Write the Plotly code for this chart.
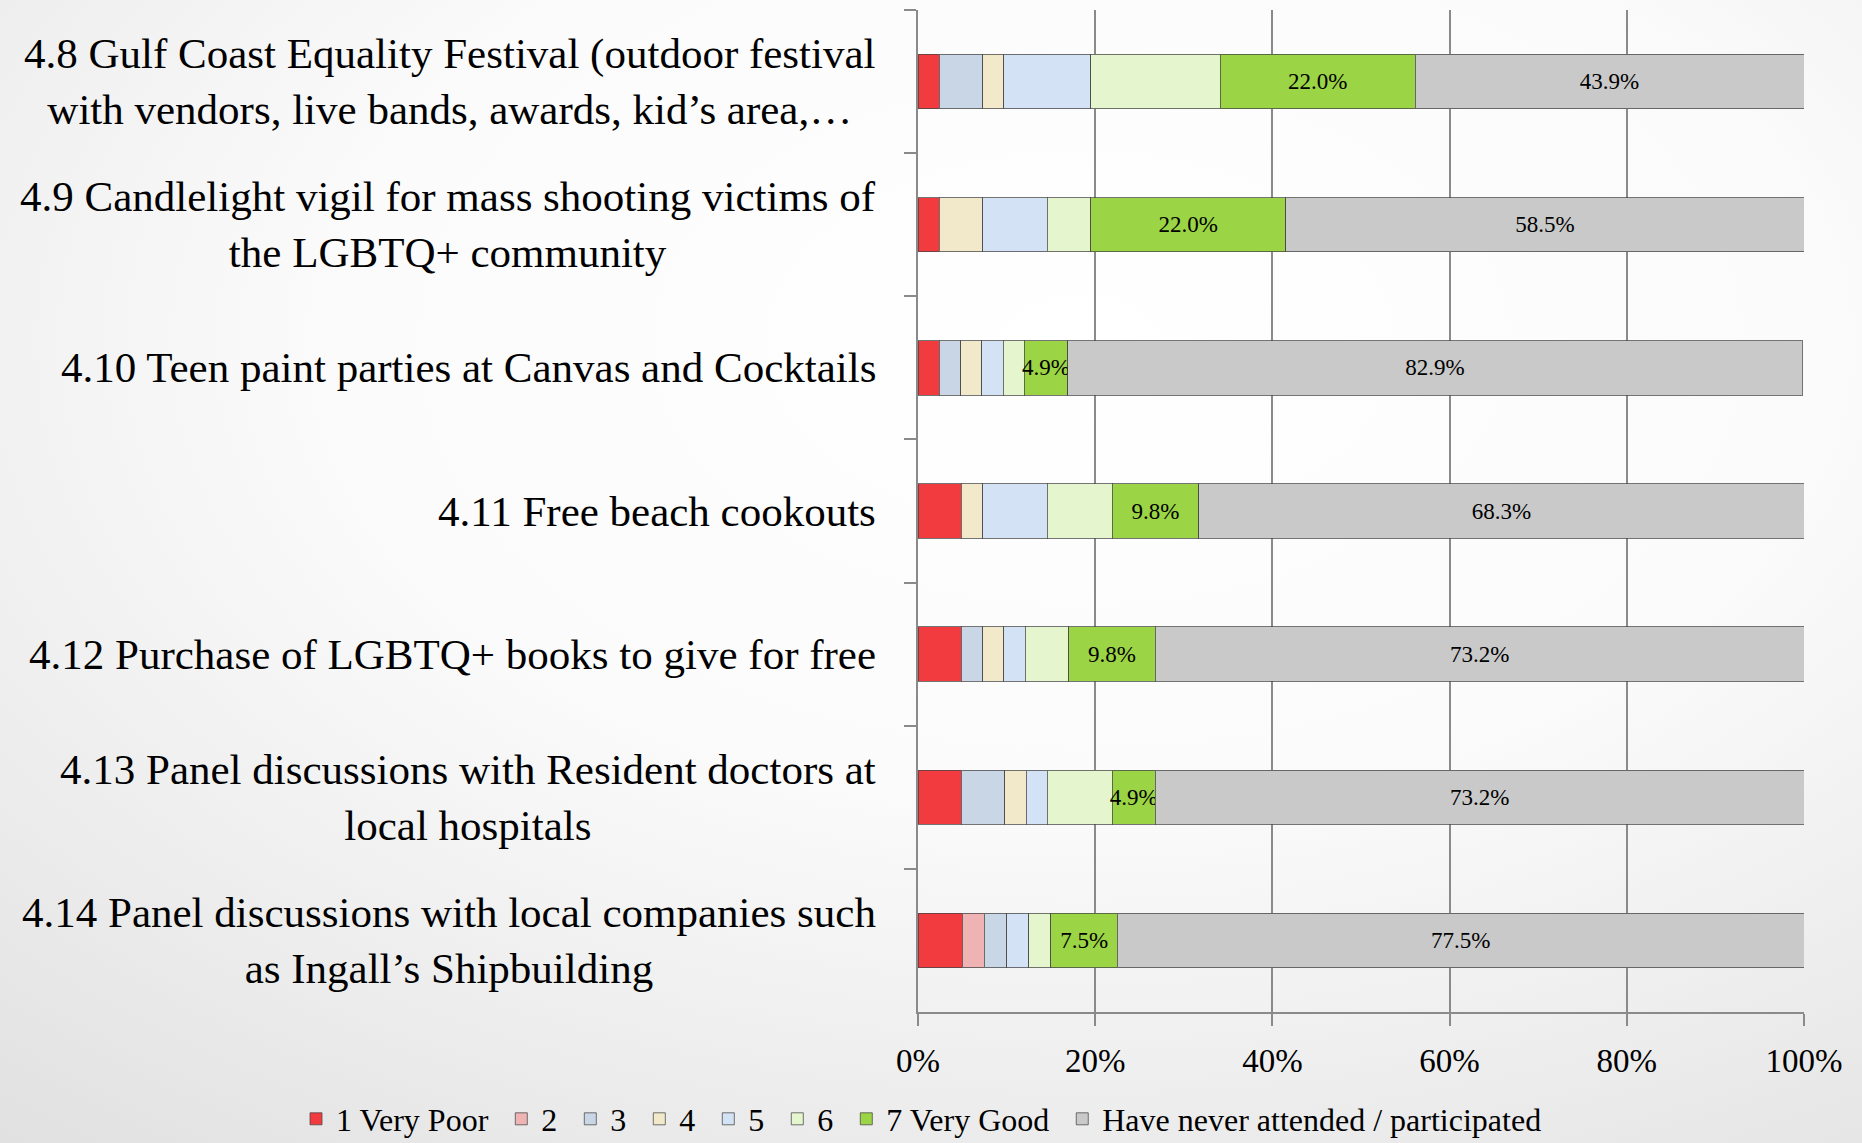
import base64
import plotly.graph_objects as go

# survey items (top to bottom)
categories = [
    "4.8 Gulf Coast Equality Festival (outdoor festival<br>with vendors, live bands, awards, kid’s area,…",
    "4.9 Candlelight vigil for mass shooting victims of<br>the LGBTQ+ community",
    "4.10 Teen paint parties at Canvas and Cocktails",
    "4.11 Free beach cookouts",
    "4.12 Purchase of LGBTQ+ books to give for free",
    "4.13 Panel discussions with Resident doctors at<br>local hospitals",
    "4.14 Panel discussions with local companies such<br>as Ingall’s Shipbuilding",
]

# percentages per rating
very_poor = [2.4, 2.4, 2.4, 4.9, 4.9, 4.9, 5.0]
rating_2 = [0, 0, 0, 0, 0, 0, 2.5]
rating_3 = [4.9, 0, 2.4, 0, 2.4, 4.9, 2.5]
rating_4 = [2.4, 4.9, 2.4, 2.4, 2.4, 2.4, 0]
rating_5 = [9.8, 7.3, 2.4, 7.3, 2.4, 2.4, 2.5]
rating_6 = [14.6, 4.9, 2.4, 7.3, 4.9, 7.3, 2.5]
very_good = [22.0, 22.0, 4.9, 9.8, 9.8, 4.9, 7.5]
never = [43.9, 58.5, 82.9, 68.3, 73.2, 73.2, 77.5]

x_ticks = [0, 20, 40, 60, 80, 100]
x_tick_labels = ["0%", "20%", "40%", "60%", "80%", "100%"]

series = [
    ("1 Very Poor", very_poor, "#f23b3f", False),
    ("2", rating_2, "#efb3b3", False),
    ("3", rating_3, "#c9d6e6", False),
    ("4", rating_4, "#f1e9c9", False),
    ("5", rating_5, "#d3e2f5", False),
    ("6", rating_6, "#e5f5cd", False),
    ("7 Very Good", very_good, "#9bd444", True),
    ("Have never attended / participated", never, "#c9c9c9", True),
]

W, H = 1862, 1143
L, R, T, B = 918, 58, 10, 131
pw, ph = W - L - R, H - T - B

serif = "Liberation Serif"

fig = go.Figure()
for name, vals, color, labelled in series:
    fig.add_trace(go.Bar(
        y=categories, x=[v if v else None for v in vals],
        name=name + "\u00a0",  # a bit of extra room between legend entries
        orientation="h",
        marker=dict(color=color, line=dict(color="rgba(70,70,70,0.75)", width=1)),
        text=[f"{v:.1f}%" for v in vals] if labelled else None,
        textposition="inside" if labelled else "none",
        insidetextanchor="middle", constraintext="none", textangle=0,
        textfont=dict(family=serif, size=23, color="black"),
    ))

# soft grey background gradient like the slide
svg = ('<svg xmlns="http://www.w3.org/2000/svg" viewBox="0 0 100 100" preserveAspectRatio="none">'
       '<defs><radialGradient id="g" cx="0.58" cy="0.3" r="1.0">'
       '<stop offset="0" stop-color="#ffffff"/><stop offset="0.4" stop-color="#fbfbfb"/>'
       '<stop offset="1" stop-color="#dcdcdc"/></radialGradient></defs>'
       '<rect width="100" height="100" fill="url(#g)"/></svg>')
bg = "data:image/svg+xml;base64," + base64.b64encode(svg.encode()).decode()

annotations = [
    dict(text=c, x=-40 / pw, y=c, xref="paper", yref="y", xanchor="right", yanchor="middle",
         align="center", showarrow=False, font=dict(family=serif, size=43, color="black"))
    for c in categories
]

fig.update_layout(
    width=W, height=H, barmode="stack", bargap=0.62,
    margin=dict(l=L, r=R, t=T, b=B, autoexpand=False),
    paper_bgcolor="white", plot_bgcolor="rgba(0,0,0,0)",
    font=dict(family=serif, color="black"),
    images=[dict(source=bg, xref="paper", yref="paper", x=-L / pw, y=1 + T / ph,
                 sizex=W / pw, sizey=H / ph, xanchor="left", yanchor="top",
                 sizing="stretch", layer="below")],
    annotations=annotations,
    legend=dict(orientation="h", x=(296 - L) / pw, y=(ph + T - 1119) / ph,
                xanchor="left", yanchor="middle", traceorder="normal",
                font=dict(family=serif, size=32, color="black"), bgcolor="rgba(0,0,0,0)"),
    xaxis=dict(range=[0, 100], tickmode="array", tickvals=x_ticks, ticktext=x_tick_labels,
               showgrid=True, gridcolor="#8a8a8a", gridwidth=1.5, showline=True,
               linecolor="#8a8a8a", linewidth=2, ticks="outside", ticklen=12,
               tickcolor="#8a8a8a", tickwidth=1.5, zeroline=False, ticklabelstandoff=6,
               automargin=False, tickfont=dict(family=serif, size=33, color="black")),
    yaxis=dict(autorange="reversed", showticklabels=False, showline=True, linecolor="#8a8a8a",
               linewidth=2, ticks="outside", ticklen=12, tickcolor="#8a8a8a", tickwidth=1.5,
               tickson="boundaries", showgrid=False, automargin=False),
)

fig.write_html("out.html", config={"displayModeBar": False},
               post_script=["document.body.style.margin='0';"])
